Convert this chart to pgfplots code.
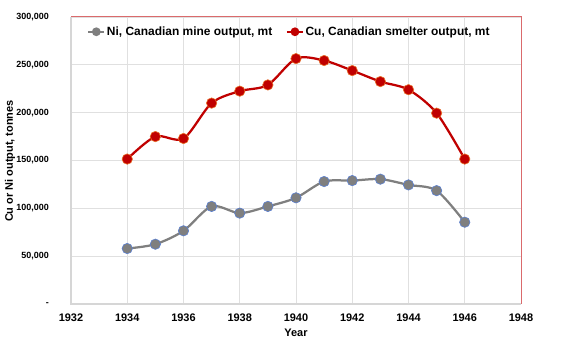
\documentclass[border=0pt]{standalone}
\usepackage{pgfplots}
\pgfplotsset{compat=1.18}
\usepackage{fontspec}
\setmainfont{Liberation Sans}
\definecolor{nigray}{HTML}{7F7F7F}
\definecolor{niedge}{HTML}{5B7FD0}
\definecolor{cured}{HTML}{C00000}
\definecolor{cuedge}{HTML}{E8702A}
\definecolor{gridc}{HTML}{E0E0E0}
\definecolor{borderred}{HTML}{DA6A6C}
\begin{document}
\begin{tikzpicture}
\useasboundingbox (-71bp,-49bp) rectangle (505bp,304bp);
\begin{axis}[
  at={(0,0)}, anchor=south west,
  scale only axis, width=450bp, height=287bp,
  xmin=1932, xmax=1948, ymin=0, ymax=300000,
  xtick={1932,1934,...,1948},
  ytick={0,50000,100000,150000,200000,250000,300000},
  major tick length=0pt,
  axis line style={draw=none},
  grid=major, grid style={gridc, line width=0.8bp},
  scaled y ticks=false,
  xticklabel style={font=\bfseries\fontsize{11}{13}\selectfont, inner sep=0pt, anchor=north, yshift=-10bp},
  xticklabels={1932,1934,1936,1938,1940,1942,1944,1946,1948},
  yticklabel style={font=\bfseries\fontsize{9}{11}\selectfont, inner sep=0pt, anchor=east, xshift=-22bp},
  yticklabels={-,{50,000},{100,000},{150,000},{200,000},{250,000},{300,000}},
  xlabel={Year},
  xlabel style={font=\bfseries\fontsize{11}{13}\selectfont, at={(axis description cs:0.5,0)}, anchor=north, inner sep=0pt, yshift=-25bp},
  ylabel={Cu or Ni output, tonnes},
  ylabel style={font=\bfseries\fontsize{11}{13}\selectfont, at={(axis description cs:-0.1356,0.498)}, anchor=center, inner sep=0pt},
  legend columns=2,
  legend style={draw=none, fill=none, at={(rel axis cs:0,1)}, anchor=north west, xshift=16bp, yshift=-8bp, inner sep=0pt,
    font=\bfseries\fontsize{12}{14}\selectfont,
    nodes={inner sep=1.5bp},
    /tikz/every even column/.append style={column sep=12bp}},
  legend image code/.code={\draw[#1, mark=none, line width=2.25bp] (0bp,0bp) -- (16bp,0bp); \fill[#1] (8bp,0bp) circle (3.2bp);},
  clip=false,
]
\addplot[color=nigray, line width=2.25bp, smooth, mark=*, mark size=5.2bp, mark options={fill=nigray, draw=niedge, line width=0.6bp}] coordinates {
(1934,58000) (1935,62500) (1936,76500) (1937,102000) (1938,95000) (1939,102000) (1940,111000) (1941,128000) (1942,129000) (1943,130500) (1944,124500) (1945,118500) (1946,85500)
};
\addlegendentry{Ni, Canadian mine output, mt}
\addplot[color=cured, line width=2.25bp, smooth, mark=*, mark size=5.2bp, mark options={fill=cured, draw=cuedge, line width=0.6bp}] coordinates {
(1934,151500) (1935,175000) (1936,173000) (1937,210000) (1938,222500) (1939,229000) (1940,256500) (1941,254500) (1942,244000) (1943,232500) (1944,224000) (1945,199500) (1946,151500)
};
\addlegendentry{Cu, Canadian smelter output, mt}
\draw[borderred, line width=1bp] (rel axis cs:0,1) -- (rel axis cs:1,1) -- (rel axis cs:1,0);
\draw[gridc!90!gray, line width=1.2bp] (rel axis cs:0,1) -- (rel axis cs:0,0) -- (rel axis cs:1,0);
\end{axis}
\end{tikzpicture}
\end{document}
